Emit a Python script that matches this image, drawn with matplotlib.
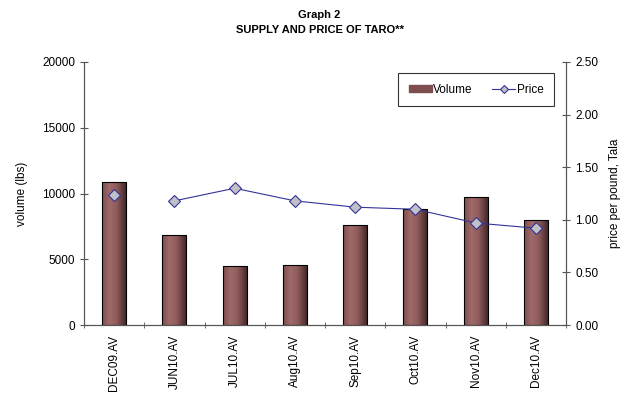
import matplotlib
matplotlib.use("Agg")
import matplotlib.pyplot as plt
import numpy as np

plt.rcParams['font.family'] = ['Liberation Sans', 'DejaVu Sans']

months = ["DEC09.AV", "JUN10.AV", "JUL10.AV", "Aug10.AV",
          "Sep10.AV", "Oct10.AV", "Nov10.AV", "Dec10.AV"]
volume = [10850, 6830, 4470, 4540, 7580, 8800, 9730, 7960]
price = [1.24, 1.18, 1.30, 1.18, 1.12, 1.10, 0.97, 0.92]

fig = plt.figure(figsize=(6.33, 4.0), dpi=100)
ax = fig.add_axes([84 / 633, 1 - 325 / 400, (566 - 84) / 633, (325 - 62) / 400])
ax2 = ax.twinx()

x = np.arange(len(months))
bars = ax.bar(x, volume, width=0.4, color="#935f5f", edgecolor="none",
              label="Volume", zorder=2)

# shaded bars: light toward the left-middle, dark on the right edge
grad = np.linspace(0, 1, 64)[None, :].repeat(2, axis=0)
cmap = matplotlib.colors.LinearSegmentedColormap.from_list(
    "bar", [(0, "#7e4e4e"), (0.3, "#a06a6a"), (0.6, "#8e5a5a"), (1, "#3e2424")])
for b in bars:
    bx, by = b.get_x(), b.get_y()
    im = ax.imshow(grad, cmap=cmap, aspect="auto", zorder=2.5,
                   extent=[bx, bx + b.get_width(), by, by + b.get_height()])
    im.set_clip_path(b)
ax.bar(x, volume, width=0.4, color="none", edgecolor="black",
       linewidth=0.8, zorder=2.8)

# no line between the first two points
ax2.plot(x[1:], price[1:], color="#333399", linewidth=0.8, zorder=3)
ax2.plot(x, price, linestyle="none", marker="D", markersize=6,
         markerfacecolor="#c0c0c8", markeredgecolor="#333399",
         markeredgewidth=0.8, zorder=4)
price_handle = plt.Line2D([], [], color="#333399", linewidth=0.8, marker="D",
                          markersize=4, markerfacecolor="#c0c0c8",
                          markeredgecolor="#333399", markeredgewidth=0.8)

ax.set_xlim(-0.5, len(months) - 0.5)
ax.set_ylim(0, 20000)
ax.set_yticks(np.arange(0, 20001, 5000))
ax2.set_ylim(0, 2.5)
ax2.set_yticks(np.arange(0, 2.51, 0.5))
ax2.set_yticklabels(["%.2f" % v for v in np.arange(0, 2.51, 0.5)])

ax.set_xticks(x)
ax.set_xticklabels(months, rotation=90, fontsize=8.5)
ax.tick_params(axis="x", length=0, pad=7)
ax.set_xticks(np.arange(-0.5, len(months)), minor=True)
ax.tick_params(axis="x", which="minor", length=5, direction="inout", color="#555555")
ax.tick_params(axis="y", labelsize=8.5, length=6, direction="inout", color="#555555")
ax2.tick_params(axis="y", labelsize=8.5, length=6, direction="inout", color="#555555")

for a in (ax, ax2):
    a.spines["top"].set_visible(False)
    for s in ("left", "right", "bottom"):
        a.spines[s].set_color("#555555")
        a.spines[s].set_linewidth(0.8)
ax.set_xlim(-0.5, len(months) - 0.5)
ax.set_ylim(0, 20000)

ax.set_ylabel("volume (lbs)", fontsize=8.5, labelpad=10)
ax2.set_ylabel("price per pound, Tala", fontsize=8.5, labelpad=8)

fig.text(0.505, 1 - 15 / 400, "Graph 2", ha="center", va="center",
         fontsize=8, fontweight="bold")
fig.text(0.505, 1 - 30 / 400, "SUPPLY AND PRICE OF TARO**", ha="center",
         va="center", fontsize=8, fontweight="bold")

leg = ax2.legend([bars, price_handle], ["Volume", "Price"], ncol=2,
                 loc="upper right", bbox_to_anchor=(554 / 633, 1 - 73 / 400),
                 bbox_transform=fig.transFigure, fontsize=8.5, frameon=True,
                 fancybox=False, edgecolor="black", handlelength=2.0,
                 handletextpad=0.1, columnspacing=1.6, borderpad=0.9,
                 borderaxespad=0, handleheight=0.6)
leg.get_frame().set_linewidth(0.8)
leg.legend_handles[0].set_color("#7e4e4e")
leg._legend_box.align = "center"

fig.savefig("out.png", dpi=100)
